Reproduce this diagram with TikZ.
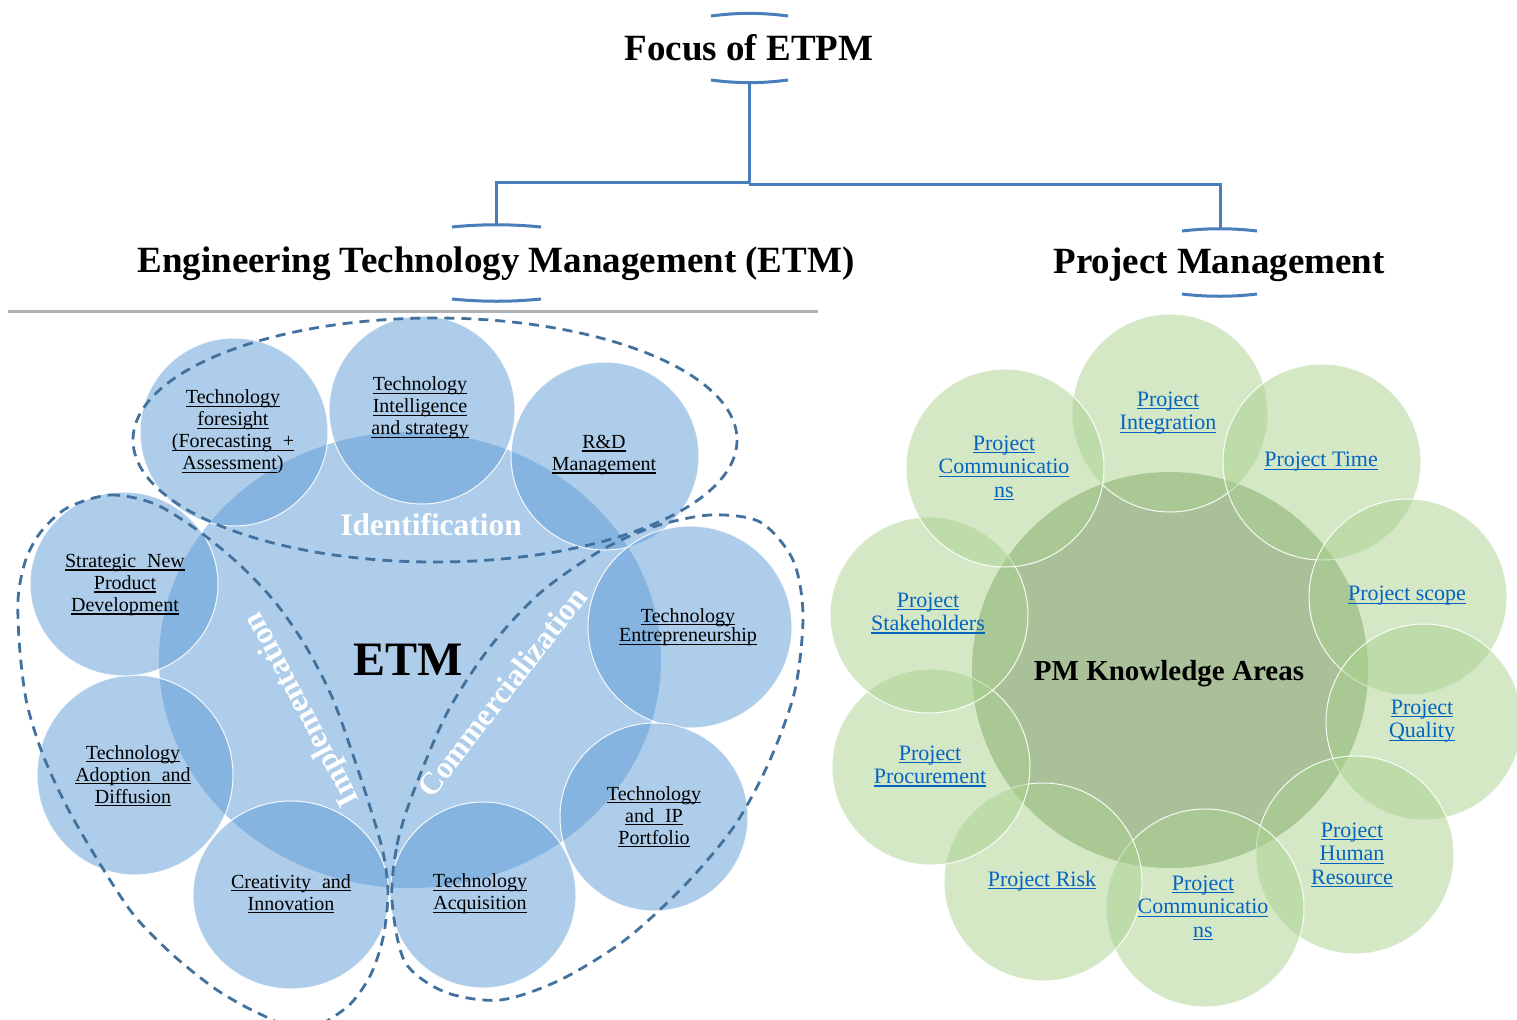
\documentclass[tikz,border=0pt]{standalone}
\usepackage{fontspec}
\setmainfont{Liberation Serif}
\definecolor{etmblue}{HTML}{5B9BD5}
\definecolor{pmgreen}{HTML}{A9D18E}
\definecolor{pmcenter}{HTML}{A9C099}
\definecolor{connblue}{HTML}{4A7EBB}
\definecolor{dashblue}{HTML}{41719C}
\definecolor{rulegray}{HTML}{AEB2B6}
\definecolor{linkblue}{HTML}{0563C1}
\newcommand{\myul}[1]{\setbox0\hbox{#1}\leavevmode\rlap{\rule[-1.5pt]{\wd0}{0.55pt}}\box0}
\begin{document}
\begin{tikzpicture}[x=0.5pt,y=-0.5pt,
  conn/.style={draw=connblue, line width=1.5pt},
  brk/.style={draw=connblue, line width=1.5pt},
  ttl/.style={font=\fontsize{18.5}{22}\selectfont\bfseries, inner sep=0, anchor=base},
  ecirc/.style={fill=etmblue, fill opacity=0.5, draw=white, draw opacity=0.9, line width=0.5pt},
  gcirc/.style={fill=pmgreen, fill opacity=0.5, draw=white, draw opacity=0.9, line width=0.5pt},
  dsh/.style={draw=dashblue, line width=1.4pt, dash pattern=on 5pt off 3.5pt},
  elab/.style={font=\fontsize{10}{11}\selectfont, align=center, inner sep=0},
  plab/.style={font=\fontsize{11}{11.75}\selectfont, align=center, inner sep=0, text=linkblue},
  wlab/.style={font=\fontsize{15.7}{18}\selectfont\bfseries, text=white, inner sep=0}]
\useasboundingbox (0,0) rectangle (1517,1019);
\clip (0,0) rectangle (1517,1019);

% ---------- titles ----------
\node[ttl] (focus) at (749,60) {Focus of ETPM};
\node[ttl] (etm) at (496,272) {Engineering Technology Management (ETM)};
\node[ttl] (pm) at (1219,273) {Project Management};

% brackets
\draw[brk] (711,16) .. controls (737,12.5) and (762,12.5) .. (788,16);
\draw[brk] (711,80) .. controls (737,83.5) and (762,83.5) .. (788,80);
\draw[brk] (452,227) .. controls (482,224) and (511,224) .. (541,227);
\draw[brk] (452,299) .. controls (482,302) and (511,302) .. (541,299);
\draw[brk] (1182,231) .. controls (1207,228) and (1232,228) .. (1257,231);
\draw[brk] (1182,294) .. controls (1207,297) and (1232,297) .. (1257,294);

% connectors
\coordinate (fB) at (749,82.5);
\coordinate (fJ) at (749,184);
\coordinate (fJl) at (749,182);
\coordinate (eT) at (496,225);
\coordinate (pT) at (1220,229);
\draw[conn] (fB) -- (fJ);
\draw[conn] (fJl) -| (eT);
\draw[conn] (fJ) -| (pT);

% gray rule
\draw[rulegray, line width=1.5pt] (8,311.5) -- (818,311.5);

% ---------- ETM ----------
\path[fill=etmblue, fill opacity=0.5] (410,660) ellipse [x radius=251, y radius=228];
\path[ecirc] (234,432) ellipse [x radius=94, y radius=94];
\path[ecirc] (422,410) ellipse [x radius=93, y radius=94];
\path[ecirc] (605,456) ellipse [x radius=94, y radius=94];
\path[ecirc] (690,627) ellipse [x radius=102, y radius=101];
\path[ecirc] (654,817) ellipse [x radius=94, y radius=94];
\path[ecirc] (483,895) ellipse [x radius=93, y radius=93];
\path[ecirc] (291,895) ellipse [x radius=98, y radius=94];
\path[ecirc] (135,775) ellipse [x radius=98, y radius=100];
\path[ecirc] (124,584) ellipse [x radius=94, y radius=92];

% dashed groups
\draw[dsh] (435,440) ellipse [x radius=302, y radius=122];
\draw[dsh] plot[smooth cycle] coordinates {(67,508) (110,495) (155,504) (200,532) (240,565) (275,602) (305,645) (332,697) (353,755) (370,807) (383,852) (388,893) (383,938) (370,976) (347,1007) (305,1030) (260,1014) (217,990) (173,955) (133,914) (97,859) (67,807) (43,755) (27,704) (20,652) (18,600) (25,562) (40,533)};
\draw[dsh] plot[smooth cycle] coordinates {(392,900) (397,845) (413,793) (447,713) (490,647) (540,593) (600,551) (653,527) (710,515) (760,522) (793,560) (803,615) (795,690) (770,760) (735,825) (685,885) (625,940) (560,980) (500,1000) (445,992) (405,962)};

% labels
\node[font=\fontsize{24}{26}\selectfont\bfseries, inner sep=0, anchor=base] (etmc) at (408,675) {ETM};
\node[wlab, anchor=base] (idl) at (431,535) {Identification};
\node[wlab, rotate=117.8] (iml) at (303,709) {Implementation};
\node[wlab, rotate=52.3] (coml) at (502,692) {Commercialization};

\node[elab] (t1) at (233,432) {\myul{Technology}\\\myul{foresight}\\\myul{(Forecasting\hspace{0.55em}+}\\\myul{Assessment})};
\node[elab] (t2) at (420,408) {\myul{Technology}\\\myul{Intelligence}\\\myul{and strategy}};
\node[elab] (t3) at (604,455) {\myul{R\&D}\\\myul{Management}};
\node[elab, font=\fontsize{10}{9.8}\selectfont] (t4) at (688,627) {\myul{Technology}\\\myul{Entrepreneurship}};
\node[elab] (t5) at (654,817) {\myul{Technology}\\\myul{and\hspace{0.3em} IP}\\\myul{Portfolio}};
\node[elab] (t6) at (480,894) {\myul{Technology}\\\myul{Acquisition}};
\node[elab] (t7) at (291,894) {\myul{Creativity\hspace{0.55em}and}\\\myul{Innovation}};
\node[elab] (t8) at (133,776) {\myul{Technology}\\\myul{Adoption\hspace{0.55em}and}\\\myul{Diffusion}};
\node[elab] (t9) at (125,585) {\myul{Strategic\hspace{0.55em}New}\\\myul{Product}\\\myul{Development}};

% ---------- PM ----------
\path[fill=pmcenter] (1170,670) ellipse [x radius=198, y radius=198];
\path[gcirc] (1170,413) ellipse [x radius=98, y radius=99];
\path[gcirc] (1322,462) ellipse [x radius=99, y radius=98];
\path[gcirc] (1408,597) ellipse [x radius=99, y radius=98];
\path[gcirc] (1424,722) ellipse [x radius=98, y radius=98];
\path[gcirc] (1355,855) ellipse [x radius=99, y radius=99];
\path[gcirc] (1205,908) ellipse [x radius=99, y radius=99];
\path[gcirc] (1043,882) ellipse [x radius=99, y radius=99];
\path[gcirc] (931,767) ellipse [x radius=99, y radius=98];
\path[gcirc] (929,615) ellipse [x radius=99, y radius=98];
\path[gcirc] (1005,468) ellipse [x radius=99, y radius=99];

\node[font=\fontsize{14.5}{16}\selectfont\bfseries, inner sep=0, anchor=base] (pmc) at (1169,680) {PM Knowledge Areas};

\node[plab] (p1) at (1168,413) {\myul{Project}\\\myul{Integration}};
\node[plab] (p2) at (1321,462) {\myul{Project Time}};
\node[plab] (p3) at (1407,596) {\myul{Project scope}};
\node[plab] (p4) at (1422,721) {\myul{Project}\\\myul{Quality}};
\node[plab] (p5) at (1352,855) {\myul{Project}\\\myul{Human}\\\myul{Resource}};
\node[plab] (p6) at (1203,908) {\myul{Project}\\\myul{Communicatio}\\\myul{ns}};
\node[plab] (p7) at (1042,881) {\myul{Project Risk}};
\node[plab] (p8) at (930,766) {\myul{Project}\\\myul{Procurement}};
\node[plab] (p9) at (928,613) {\myul{Project}\\\myul{Stakeholders}};
\node[plab] (p10) at (1004,468) {\myul{Project}\\\myul{Communicatio}\\\myul{ns}};
\end{tikzpicture}
\end{document}
